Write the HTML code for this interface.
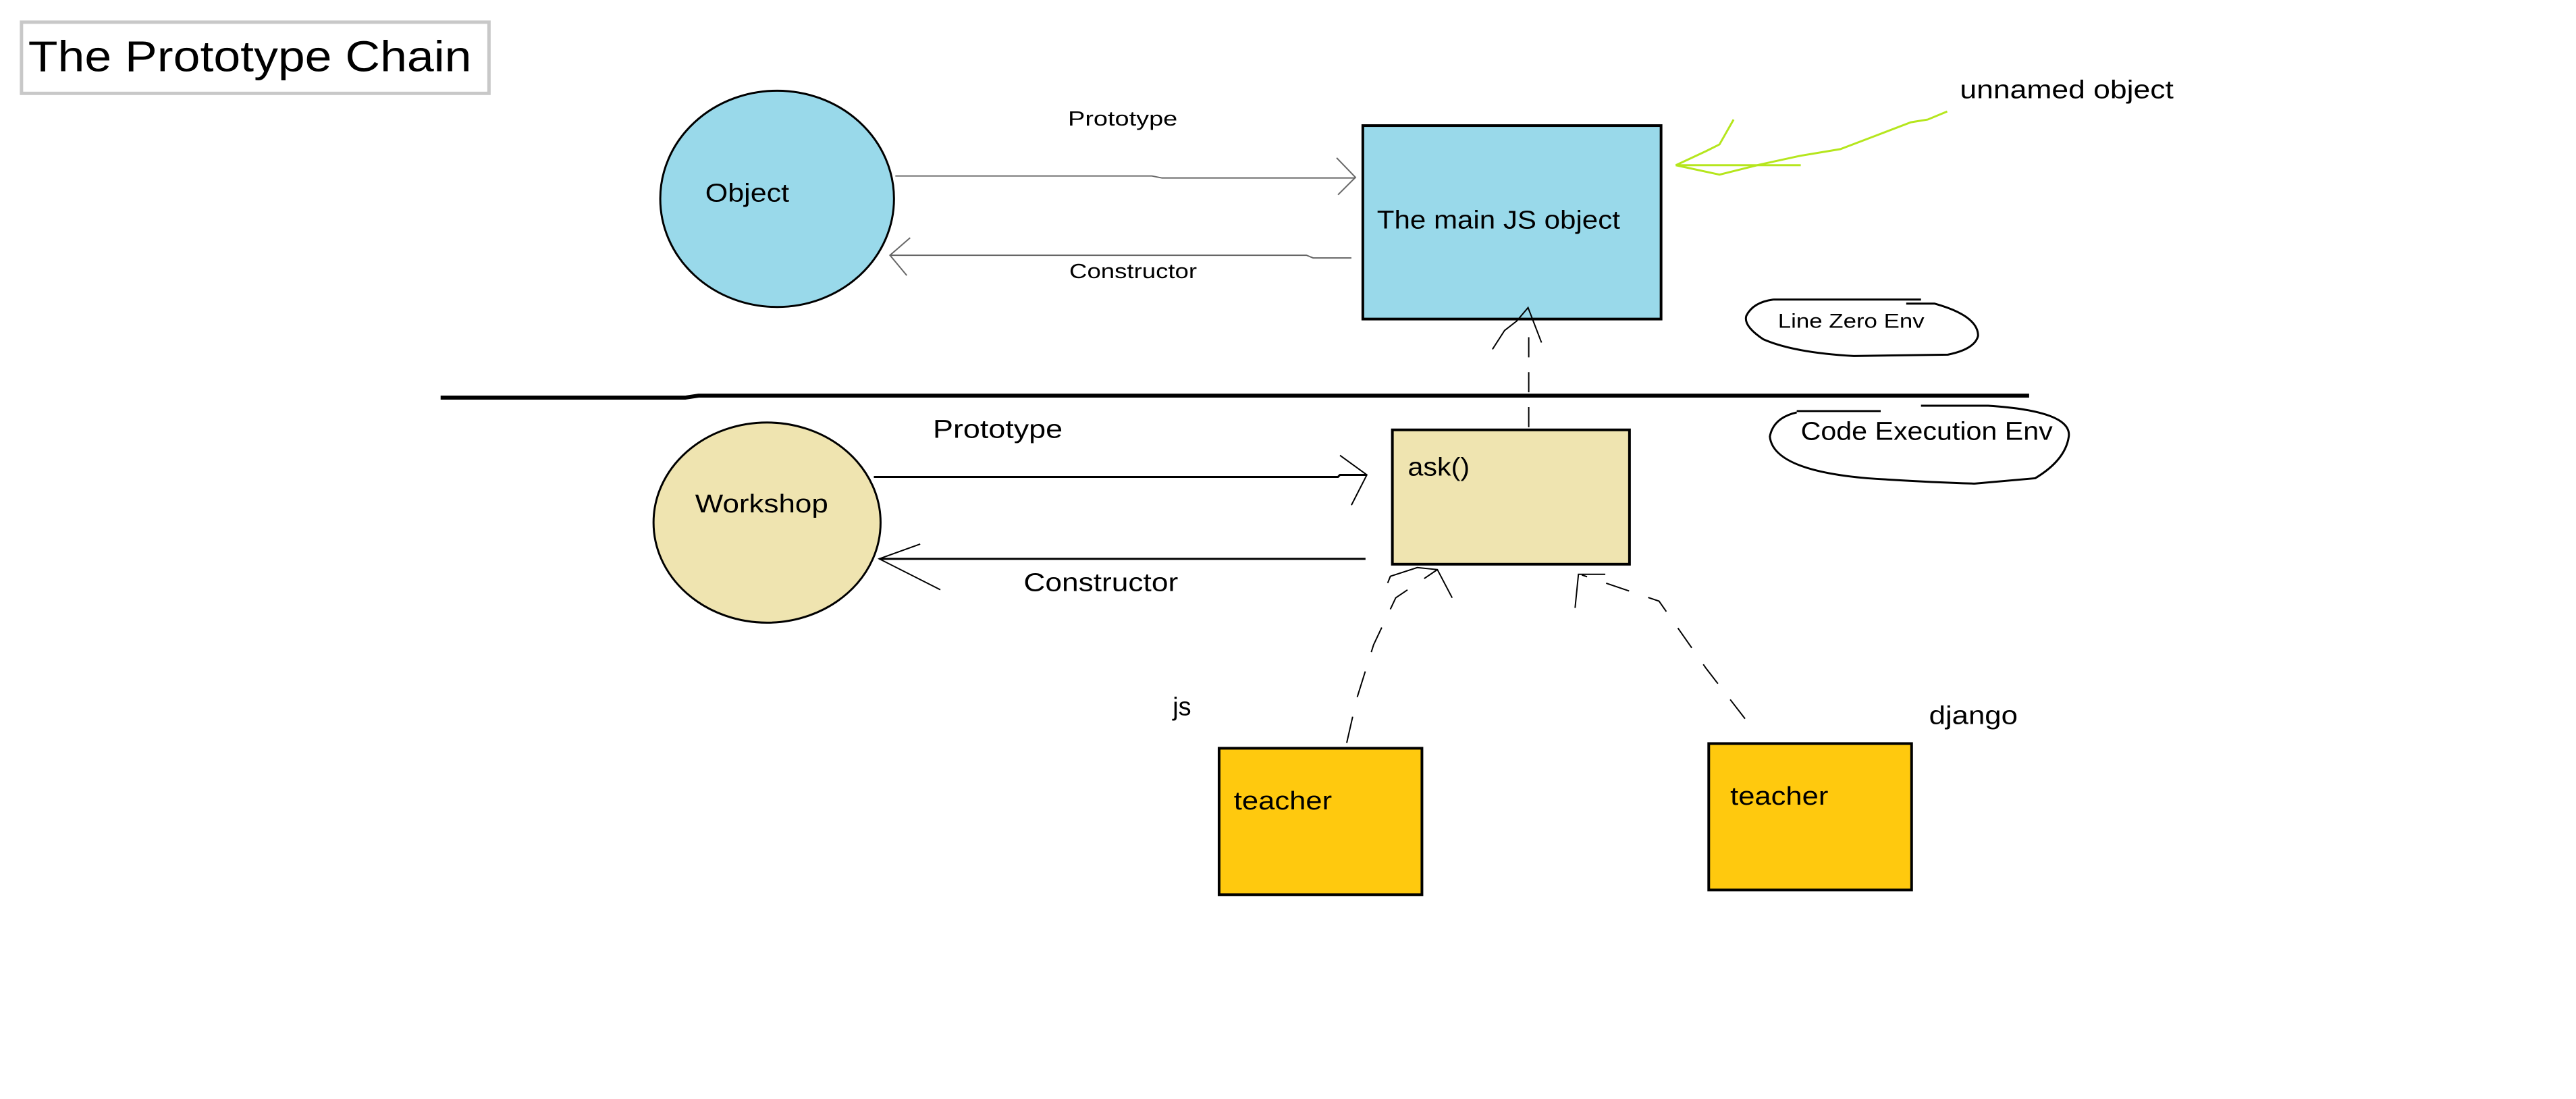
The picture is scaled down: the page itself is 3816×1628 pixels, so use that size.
<!DOCTYPE html>
<html><head><meta charset="utf-8"><style>
html,body{margin:0;padding:0;background:#fff;}
svg{display:block;}
text{font-family:"Liberation Sans",sans-serif;fill:#000;}
</style></head><body>
<svg width="3816" height="1628" viewBox="0 0 3816 1628" xmlns="http://www.w3.org/2000/svg">
<g transform="scale(0.995)">
<rect x="32" y="33" width="696" height="106" fill="#fff" stroke="#c8c8c8" stroke-width="5"/>
<text x="42" y="106" font-size="64" textLength="660" lengthAdjust="spacingAndGlyphs">The Prototype Chain</text>

<ellipse cx="1157" cy="296" rx="174" ry="161" fill="#99d9ea" stroke="#000" stroke-width="3"/>
<text x="1050" y="300" font-size="38" textLength="125" lengthAdjust="spacingAndGlyphs">Object</text>

<rect x="2029" y="187" width="444" height="288" fill="#99d9ea" stroke="#000" stroke-width="4"/>
<text x="2050" y="340" font-size="38" textLength="362" lengthAdjust="spacingAndGlyphs">The main JS object</text>

<text x="1590" y="187" font-size="31" textLength="163" lengthAdjust="spacingAndGlyphs">Prototype</text>
<path d="M1333 262 L1715 262 L1730 265 L2018 265" fill="none" stroke="#666" stroke-width="2"/>
<path d="M1990 235 L2018 264 L1992 290" fill="none" stroke="#666" stroke-width="2"/>
<text x="1592" y="414" font-size="31" textLength="190" lengthAdjust="spacingAndGlyphs">Constructor</text>
<path d="M2012 384 L1955 384 L1945 380 L1325 380" fill="none" stroke="#666" stroke-width="2"/>
<path d="M1355 354 L1325 380 L1350 410" fill="none" stroke="#666" stroke-width="2"/>

<path d="M2899 166 L2870 178 L2845 182 L2790 203 L2740 222 L2680 232 L2620 245 L2560 260 L2495 246" fill="none" stroke="#b5e61d" stroke-width="3"/>
<path d="M2581 178 L2560 215 L2540 225 L2495 246 L2681 246" fill="none" stroke="#b5e61d" stroke-width="3"/>
<text x="2918" y="146" font-size="38" textLength="318" lengthAdjust="spacingAndGlyphs">unnamed object</text>

<path d="M2640 446 L2860 446 M2838 452 L2880 452 Q2945 470 2945 500 Q2940 520 2900 528 L2760 530 Q2670 525 2625 505 Q2595 485 2600 470 Q2610 450 2640 446" fill="none" stroke="#000" stroke-width="3"/>
<text x="2647" y="488" font-size="30" textLength="218" lengthAdjust="spacingAndGlyphs">Line Zero Env</text>

<path d="M2675 612 L2800 612 M2860 604 L2960 604 Q3085 612 3080 650 Q3075 685 3030 712 L2940 720 Q2870 718 2780 712 Q2640 700 2635 650 Q2640 622 2675 614" fill="none" stroke="#000" stroke-width="3"/>
<text x="2681" y="655" font-size="38" textLength="375" lengthAdjust="spacingAndGlyphs">Code Execution Env</text>

<path d="M656 592 L1020 592 L1040 589 L3021 589" fill="none" stroke="#000" stroke-width="6"/>

<path d="M2276 636 L2276 490" fill="none" stroke="#000" stroke-width="2" stroke-dasharray="30 22"/>
<path d="M2222 520 L2240 492 L2258 478 L2275 458 L2295 510" fill="none" stroke="#000" stroke-width="2"/>

<ellipse cx="1142" cy="778" rx="169" ry="149" fill="#efe4b0" stroke="#000" stroke-width="3"/>
<text x="1035" y="763" font-size="38" textLength="198" lengthAdjust="spacingAndGlyphs">Workshop</text>

<rect x="2073" y="640" width="353" height="200" fill="#efe4b0" stroke="#000" stroke-width="4"/>
<text x="2096" y="708" font-size="38" textLength="92" lengthAdjust="spacingAndGlyphs">ask()</text>

<text x="1389" y="652" font-size="38" textLength="193" lengthAdjust="spacingAndGlyphs">Prototype</text>
<path d="M1301 710 L1992 710 L1995 707 L2035 707" fill="none" stroke="#000" stroke-width="3"/>
<path d="M1995 678 L2035 707 L2012 752" fill="none" stroke="#000" stroke-width="2"/>
<text x="1524" y="880" font-size="38" textLength="230" lengthAdjust="spacingAndGlyphs">Constructor</text>
<path d="M2033 832 L1309 832" fill="none" stroke="#000" stroke-width="3"/>
<path d="M1370 810 L1309 832 L1400 878" fill="none" stroke="#000" stroke-width="2"/>

<path d="M2005 1106 L2020 1040 L2045 960 L2078 890 L2140 848" fill="none" stroke="#000" stroke-width="2" stroke-dasharray="40 30"/>
<path d="M2066 868 L2070 858 L2110 845 L2140 848 L2162 890" fill="none" stroke="#000" stroke-width="2"/>
<path d="M2598 1070 L2540 995 L2470 895 L2355 856" fill="none" stroke="#000" stroke-width="2" stroke-dasharray="36 30"/>
<path d="M2345 905 L2350 855 L2390 855" fill="none" stroke="#000" stroke-width="2"/>

<text x="1746" y="1065" font-size="38">js</text>
<text x="2872" y="1078" font-size="38" textLength="132" lengthAdjust="spacingAndGlyphs">django</text>

<rect x="1815" y="1114" width="302" height="218" fill="#ffc90e" stroke="#000" stroke-width="4"/>
<text x="1837" y="1205" font-size="38" textLength="146" lengthAdjust="spacingAndGlyphs">teacher</text>
<rect x="2544" y="1107" width="302" height="218" fill="#ffc90e" stroke="#000" stroke-width="4"/>
<text x="2576" y="1198" font-size="38" textLength="146" lengthAdjust="spacingAndGlyphs">teacher</text>
</g>
</svg>
</body></html>
